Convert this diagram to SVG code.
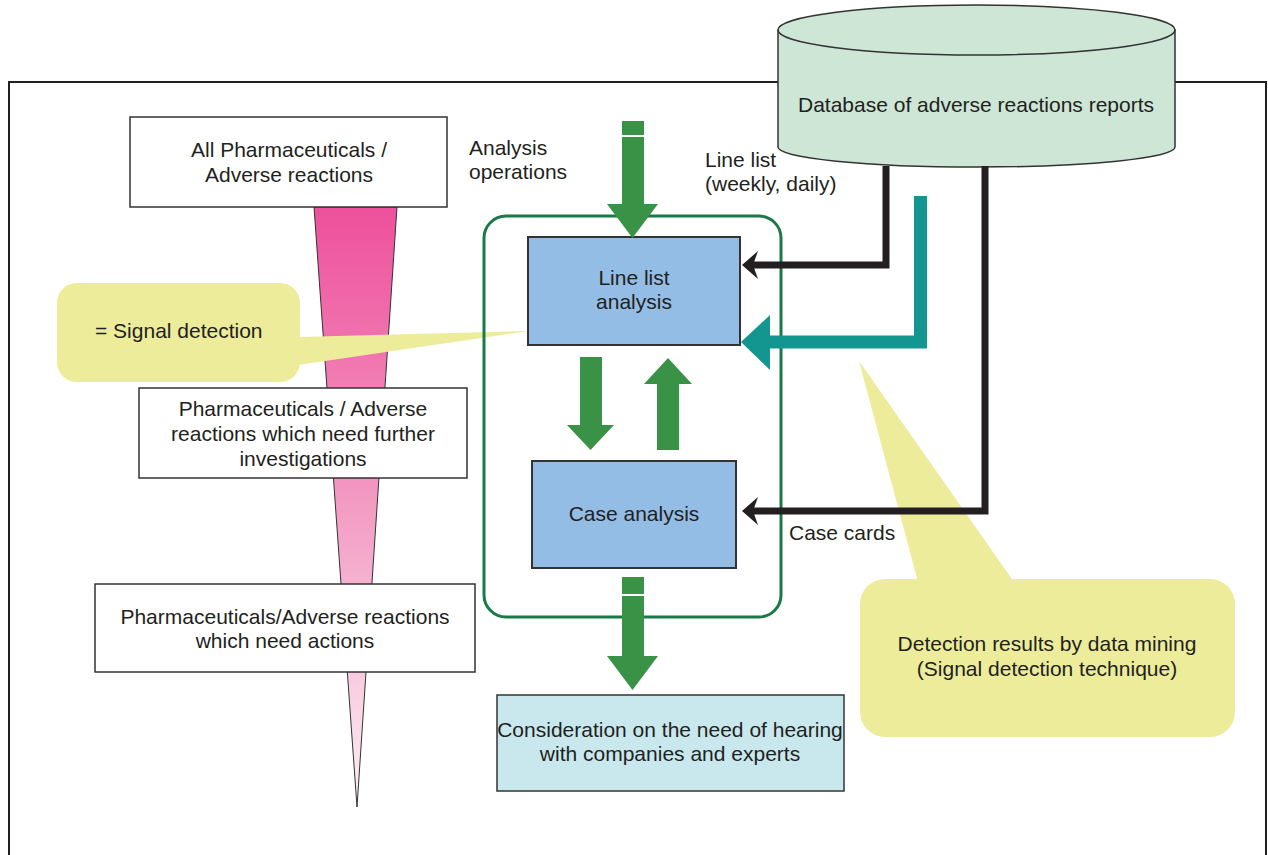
<svg xmlns="http://www.w3.org/2000/svg" width="1268" height="855" viewBox="0 0 1268 855">
  <style>
    text { font-family: "Liberation Sans", Arial, sans-serif; font-size: 21px; fill: #231f20; }
    .mid { text-anchor: middle; }
    .box { fill: #ffffff; stroke: #333333; stroke-width: 1.5; }
    .proc { fill: #94bde5; stroke: #333333; stroke-width: 2; }
    .callout { fill: #ecec9a; }
    .green { fill: #3a9247; }
    .feed { fill: none; stroke: #231f20; stroke-width: 7; stroke-linejoin: miter; }
  </style>
  <defs>
    <linearGradient id="funnelGrad" gradientUnits="userSpaceOnUse" x1="0" y1="207" x2="0" y2="807">
      <stop offset="0" stop-color="#ee509c"/>
      <stop offset="0.5" stop-color="#f39cc4"/>
      <stop offset="1" stop-color="#fdf0f5"/>
    </linearGradient>
  </defs>

  <!-- outer frame -->
  <rect x="9" y="82" width="1257" height="800" fill="none" stroke="#231f20" stroke-width="2"/>

  <!-- narrowing funnel behind the stage boxes -->
  <polygon id="funnel" points="314,207 397,207 357,807" fill="url(#funnelGrad)" stroke="#333333" stroke-width="1"/>

  <!-- stage boxes -->
  <g id="all-pharma">
    <rect class="box" x="130" y="117" width="317" height="90"/>
    <text class="mid" x="289" y="157">All Pharmaceuticals /</text>
    <text class="mid" x="289" y="182">Adverse reactions</text>
  </g>
  <g id="further-investigation">
    <rect class="box" x="139" y="388" width="328" height="90"/>
    <text class="mid" x="303" y="416">Pharmaceuticals / Adverse</text>
    <text class="mid" x="303" y="441">reactions which need further</text>
    <text class="mid" x="303" y="466">investigations</text>
  </g>
  <g id="need-actions">
    <rect class="box" x="95" y="584" width="380" height="88"/>
    <text class="mid" x="285" y="624">Pharmaceuticals/Adverse reactions</text>
    <text class="mid" x="285" y="648">which need actions</text>
  </g>

  <!-- callout: signal detection -->
  <g id="signal-callout">
    <rect class="callout" x="57" y="283" width="243" height="99" rx="20"/>
    <polygon class="callout" points="298,337 528,331 298,365"/>
    <text x="95" y="338">= Signal detection</text>
  </g>

  <!-- callout: data mining results -->
  <g id="mining-callout">
    <polygon class="callout" points="859,361 918,582 1014,582"/>
    <rect class="callout" x="860" y="579" width="375" height="158" rx="25"/>
    <text class="mid" x="1047" y="651">Detection results by data mining</text>
    <text class="mid" x="1047" y="676">(Signal detection technique)</text>
  </g>

  <!-- analysis operations frame -->
  <rect id="analysis-frame" x="484" y="216" width="297" height="401" rx="22" fill="none" stroke="#197a48" stroke-width="3"/>

  <g id="line-list-analysis">
    <rect class="proc" x="528" y="237" width="212" height="108"/>
    <text class="mid" x="634" y="285">Line list</text>
    <text class="mid" x="634" y="309">analysis</text>
  </g>
  <g id="case-analysis">
    <rect class="proc" x="532" y="461" width="204" height="107"/>
    <text class="mid" x="634" y="521">Case analysis</text>
  </g>
  <g id="consideration">
    <rect x="497" y="695" width="347" height="96" fill="#c8e8ee" stroke="#333333" stroke-width="1.5"/>
    <text class="mid" x="670" y="737">Consideration on the need of hearing</text>
    <text class="mid" x="670" y="761">with companies and experts</text>
  </g>

  <!-- database -->
  <g id="database">
    <path d="M778,30 L778,147 A198.5,20 0 0 0 1175,147 L1175,30 Z" fill="#cde6d5" stroke="#333333" stroke-width="1.5"/>
    <ellipse cx="976.5" cy="30" rx="198.5" ry="25" fill="#cde6d5" stroke="#333333" stroke-width="1.5"/>
    <text class="mid" x="976" y="112">Database of adverse reactions reports</text>
  </g>

  <!-- labels -->
  <text x="469" y="155">Analysis</text>
  <text x="469" y="179">operations</text>
  <text x="705" y="167">Line list</text>
  <text x="705" y="191">(weekly, daily)</text>
  <text x="789" y="540">Case cards</text>

  <!-- connectors -->
  <g id="connectors">
    <!-- line list feed -->
    <polyline class="feed" points="886,166 886,265 753,265"/>
    <path d="M742,265 L758,251 L753,265 L758,279 Z" fill="#231f20"/>
    <!-- case card feed -->
    <polyline class="feed" points="985,166 985,511 753,511"/>
    <path d="M742,511 L758,497 L753,511 L758,525 Z" fill="#231f20"/>
    <!-- data mining feed -->
    <polyline points="920.5,196 920.5,342 768,342" fill="none" stroke="#12968f" stroke-width="13" stroke-linejoin="miter"/>
    <polygon points="741,342 770,315 770,370" fill="#12968f"/>

    <!-- operations into line list analysis -->
    <rect class="green" x="622" y="121" width="22" height="14"/>
    <rect class="green" x="622" y="137" width="22" height="68"/>
    <polygon class="green" points="607,204 658,204 632.5,238"/>
    <!-- line list -> case analysis -->
    <rect class="green" x="580" y="357" width="22" height="70"/>
    <polygon class="green" points="567,425 614,425 590.5,450"/>
    <!-- case analysis -> line list -->
    <rect class="green" x="657" y="382" width="22" height="68"/>
    <polygon class="green" points="644,384 692,384 668,358"/>
    <!-- case analysis -> consideration -->
    <rect class="green" x="622" y="577" width="22" height="17"/>
    <rect class="green" x="622" y="596" width="22" height="62"/>
    <polygon class="green" points="607,656 658,656 632.5,690"/>
  </g>
</svg>
